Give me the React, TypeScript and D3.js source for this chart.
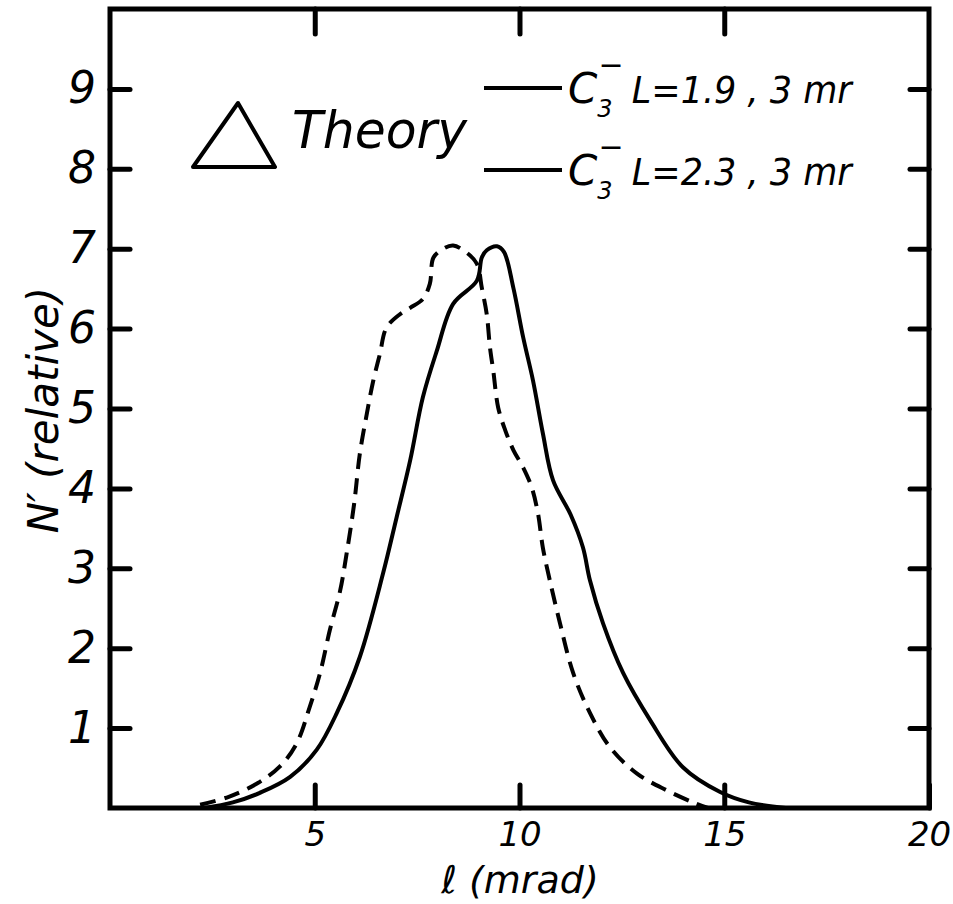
import { useEffect, useRef } from "react";
import * as d3 from "d3";

// L = 1.9 curve (solid)
const solidX = [2.3, 3.0, 3.66, 4.4, 5.05, 5.54, 6.1, 6.67, 7.0, 7.33, 7.64, 7.98, 8.38, 8.96, 9.08, 9.2, 9.45, 9.62, 9.85, 10.09, 10.33, 10.57, 10.82, 11.25, 11.55, 11.72, 12.04, 12.53, 13.19, 13.99, 14.9, 15.6, 16.5];
const solidY = [0, 0.07, 0.19, 0.39, 0.73, 1.19, 1.89, 2.94, 3.64, 4.35, 5.14, 5.72, 6.31, 6.6, 6.89, 6.98, 7.03, 6.96, 6.51, 5.89, 5.35, 4.69, 4.1, 3.67, 3.26, 2.85, 2.31, 1.69, 1.1, 0.51, 0.2, 0.07, 0];

// L = 2.3 curve (dashed)
const dashX = [2.2, 2.9, 3.6, 4.15, 4.56, 4.88, 5.13, 5.37, 5.62, 5.78, 5.96, 6.1, 6.27, 6.43, 6.59, 6.75, 7.08, 7.33, 7.64, 7.81, 7.9, 8.14, 8.38, 8.71, 8.96, 9.08, 9.2, 9.28, 9.36, 9.48, 9.65, 9.85, 10.09, 10.3, 10.45, 10.57, 10.74, 10.99, 11.31, 11.72, 12.21, 12.87, 13.6, 14.24, 14.6];
const dashY = [0.04, 0.14, 0.31, 0.52, 0.81, 1.27, 1.69, 2.23, 2.72, 3.19, 3.8, 4.43, 4.93, 5.35, 5.68, 6.01, 6.18, 6.26, 6.37, 6.56, 6.89, 7.0, 7.04, 6.95, 6.81, 6.51, 6.18, 5.76, 5.47, 5.01, 4.73, 4.48, 4.26, 4.01, 3.69, 3.26, 2.85, 2.31, 1.69, 1.19, 0.76, 0.43, 0.22, 0.07, 0];

const xTicks = [5, 10, 15, 20];
const topTicks = [5, 10, 15];
const yTicks = [1, 2, 3, 4, 5, 6, 7, 8, 9];
const legendLabels = ["L=1.9 , 3 mr", "L=2.3 , 3 mr"];

const W = 953;
const H = 904;
const FONT = "'DejaVu Sans', sans-serif";

export default function App() {
  const ref = useRef<SVGSVGElement>(null);

  useEffect(() => {
    const svg = d3.select(ref.current);
    svg.selectAll("*").remove();

    const x = d3.scaleLinear().domain([0, 20]).range([110, 929]);
    const y = d3.scaleLinear().domain([0, 10]).range([808, 9]);

    const styleAxis = (g, size) => {
      g.select(".domain").remove();
      g.selectAll(".tick line").attr("stroke", "#000").attr("stroke-width", 5).attr("stroke-linecap", "round");
      g.selectAll(".tick text")
        .attr("font-family", FONT)
        .attr("font-style", "italic")
        .attr("font-size", size)
        .attr("fill", "#000");
    };

    // bottom axis, ticks inward
    svg.append("g")
      .attr("transform", `translate(0,${y(0)})`)
      .call(d3.axisBottom(x).tickValues(xTicks).tickSize(-23).tickPadding(14).tickFormat(d3.format("d")))
      .call((g) => styleAxis(g, 34));

    // top axis ticks only
    svg.append("g")
      .attr("transform", `translate(0,${y(10)})`)
      .call(d3.axisTop(x).tickValues(topTicks).tickSize(-25).tickFormat(() => ""))
      .call((g) => styleAxis(g, 0));

    // left axis
    svg.append("g")
      .attr("transform", `translate(${x(0)},0)`)
      .call(d3.axisLeft(y).tickValues(yTicks).tickSize(-20).tickPadding(14).tickFormat(d3.format("d")))
      .call((g) => styleAxis(g, 44));

    // right axis ticks only
    svg.append("g")
      .attr("transform", `translate(${x(20)},0)`)
      .call(d3.axisRight(y).tickValues(yTicks).tickSize(-19).tickFormat(() => ""))
      .call((g) => styleAxis(g, 0));

    // frame
    svg.append("rect")
      .attr("x", x(0)).attr("y", y(10))
      .attr("width", x(20) - x(0)).attr("height", y(0) - y(10))
      .attr("fill", "none").attr("stroke", "#000").attr("stroke-width", 5);

    const line = d3.line<number>()
      .x((d) => x(d[0]))
      .y((d) => y(d[1]))
      .curve(d3.curveCatmullRom.alpha(0.5));

    svg.append("path")
      .attr("d", line(solidX.map((v, i) => [v, solidY[i]])))
      .attr("fill", "none").attr("stroke", "#000").attr("stroke-width", 4);

    svg.append("path")
      .attr("d", line(dashX.map((v, i) => [v, dashY[i]])))
      .attr("fill", "none").attr("stroke", "#000").attr("stroke-width", 4)
      .attr("stroke-dasharray", "16,9");

    // Theory triangle + label
    const tri = d3.path();
    tri.moveTo(193, 167);
    tri.lineTo(238, 103);
    tri.lineTo(275, 167);
    tri.closePath();
    svg.append("path").attr("d", tri.toString())
      .attr("fill", "none").attr("stroke", "#000").attr("stroke-width", 4).attr("stroke-linejoin", "round");
    svg.append("text")
      .attr("x", 292).attr("y", 148)
      .attr("font-family", FONT).attr("font-style", "italic").attr("font-size", 52)
      .attr("textLength", 175).attr("lengthAdjust", "spacingAndGlyphs")
      .text("Theory");

    // legend
    legendLabels.forEach((lab, i) => {
      const ly = 88 + i * 82;
      svg.append("line")
        .attr("x1", 484).attr("x2", 562).attr("y1", ly).attr("y2", ly)
        .attr("stroke", "#000").attr("stroke-width", 4);
      const t = svg.append("text")
        .attr("x", 568).attr("y", ly + 15)
        .attr("font-family", FONT).attr("font-style", "italic").attr("font-size", 42)
        .attr("fill", "#000");
      t.append("tspan").text("C");
      t.append("tspan").attr("font-size", 24).attr("dy", 14).text("3");
      t.append("tspan").attr("font-size", 30).attr("dx", -14).attr("dy", -42).text("\u2212");
      t.append("tspan").attr("font-size", 38).attr("dy", 28).attr("dx", 8)
        .attr("textLength", 220).attr("lengthAdjust", "spacingAndGlyphs")
        .text(lab);
    });

    // axis titles
    svg.append("text")
      .attr("transform", `translate(58,${410}) rotate(-90)`)
      .attr("text-anchor", "middle")
      .attr("font-family", FONT).attr("font-style", "italic").attr("font-size", 42)
      .text("N\u2032 (relative)");

    svg.append("text")
      .attr("x", 520).attr("y", 893)
      .attr("text-anchor", "middle")
      .attr("font-family", FONT).attr("font-style", "italic").attr("font-size", 38)
      .text("\u2113 (mrad)");
  }, []);

  return (
    <svg
      ref={ref}
      width={W}
      height={H}
      style={{ position: "absolute", left: 0, top: 0, background: "#fff" }}
    />
  );
}
